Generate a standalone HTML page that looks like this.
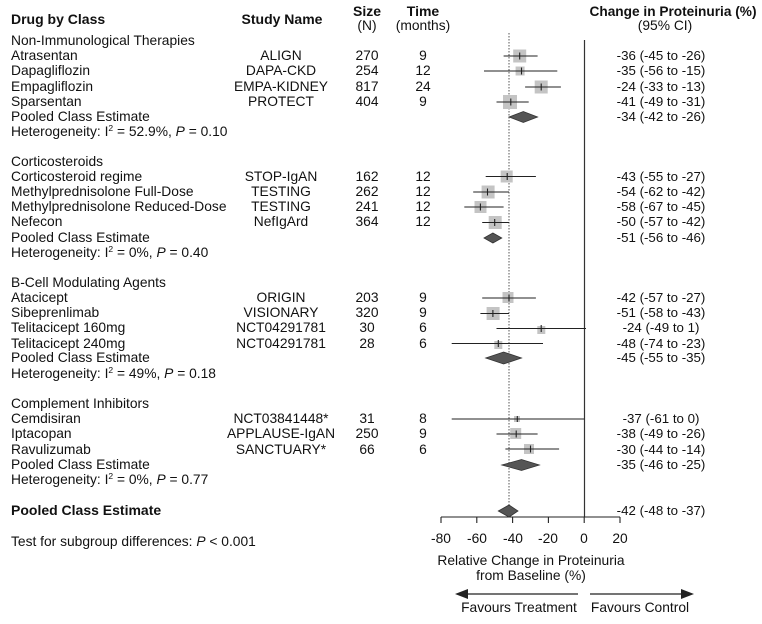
<!DOCTYPE html>
<html><head><meta charset="utf-8"><style>
html,body{margin:0;padding:0;background:#fff;}
svg{display:block;font-family:"Liberation Sans",Arial,sans-serif;font-size:13.8px;fill:#111;}
.b{font-weight:bold;font-size:14px;}
.m{text-anchor:middle;}
.c{text-anchor:middle;font-size:13.3px;}
</style></head><body>
<svg width="762" height="624" viewBox="0 0 762 624" xmlns="http://www.w3.org/2000/svg">
<text class="b" x="11" y="24">Drug by Class</text>
<text class="b m" x="282" y="24">Study Name</text>
<text class="b m" x="367" y="16">Size</text>
<text class="m" x="367" y="30">(N)</text>
<text class="b m" x="423" y="16">Time</text>
<text class="m" x="423" y="30">(months)</text>
<text class="b m" x="673" y="16" textLength="167" lengthAdjust="spacingAndGlyphs">Change in Proteinuria (%)</text>
<text class="m" x="665" y="30">(95% CI)</text>

<line x1="509" y1="33" x2="509" y2="517" stroke="#555" stroke-width="1" stroke-dasharray="1.5,1.5"/>
<line x1="584.5" y1="40" x2="584.5" y2="517" stroke="#333" stroke-width="1.2"/>
<g stroke="#222" stroke-width="1.1">
<line x1="441" y1="517" x2="620" y2="517"/>
<line x1="441" y1="517" x2="441" y2="523"/>
<line x1="476.8" y1="517" x2="476.8" y2="523"/>
<line x1="512.6" y1="517" x2="512.6" y2="523"/>
<line x1="548.4" y1="517" x2="548.4" y2="523"/>
<line x1="584.2" y1="517" x2="584.2" y2="523"/>
<line x1="620" y1="517" x2="620" y2="523"/>
</g>
<text class="m" x="441" y="543">-80</text>
<text class="m" x="477" y="543">-60</text>
<text class="m" x="513" y="543">-40</text>
<text class="m" x="548" y="543">-20</text>
<text class="m" x="584" y="543">0</text>
<text class="m" x="620" y="543">20</text>
<text class="m" x="531" y="565">Relative Change in Proteinuria</text>
<text class="m" x="531" y="580">from Baseline (%)</text>
<line x1="466" y1="594" x2="578" y2="594" stroke="#222" stroke-width="1.2"/>
<polygon points="455,594 468,589 468,599" fill="#222"/>
<line x1="590" y1="594" x2="683" y2="594" stroke="#222" stroke-width="1.2"/>
<polygon points="694,594 681,589 681,599" fill="#222"/>
<text class="m" x="519" y="612">Favours Treatment</text>
<text class="m" x="640" y="612">Favours Control</text>

<text x="11" y="45">Non-Immunological Therapies</text>
<text x="11" y="60">Atrasentan</text><text class="m" x="281" y="60">ALIGN</text><text class="m" x="367" y="60">270</text><text class="m" x="423" y="60">9</text><text class="c" x="661" y="60">-36 (-45 to -26)</text>
<text x="11" y="75">Dapagliflozin</text><text class="m" x="281" y="75">DAPA-CKD</text><text class="m" x="367" y="75">254</text><text class="m" x="423" y="75">12</text><text class="c" x="661" y="75">-35 (-56 to -15)</text>
<text x="11" y="91">Empagliflozin</text><text class="m" x="281" y="91">EMPA-KIDNEY</text><text class="m" x="367" y="91">817</text><text class="m" x="423" y="91">24</text><text class="c" x="661" y="91">-24 (-33 to -13)</text>
<text x="11" y="106">Sparsentan</text><text class="m" x="281" y="106">PROTECT</text><text class="m" x="367" y="106">404</text><text class="m" x="423" y="106">9</text><text class="c" x="661" y="106">-41 (-49 to -31)</text>
<text x="11" y="121">Pooled Class Estimate</text><text class="c" x="661" y="121">-34 (-42 to -26)</text>
<text x="11" y="136">Heterogeneity: I<tspan font-size="8.5" dy="-5">2</tspan><tspan dy="5"> = 52.9%, </tspan><tspan font-style="italic">P</tspan> = 0.10</text>

<text x="11" y="166">Corticosteroids</text>
<text x="11" y="181">Corticosteroid regime</text><text class="m" x="281" y="181">STOP-IgAN</text><text class="m" x="367" y="181">162</text><text class="m" x="423" y="181">12</text><text class="c" x="661" y="181">-43 (-55 to -27)</text>
<text x="11" y="196">Methylprednisolone Full-Dose</text><text class="m" x="281" y="196">TESTING</text><text class="m" x="367" y="196">262</text><text class="m" x="423" y="196">12</text><text class="c" x="661" y="196">-54 (-62 to -42)</text>
<text x="11" y="211">Methylprednisolone Reduced-Dose</text><text class="m" x="281" y="211">TESTING</text><text class="m" x="367" y="211">241</text><text class="m" x="423" y="211">12</text><text class="c" x="661" y="211">-58 (-67 to -45)</text>
<text x="11" y="226">Nefecon</text><text class="m" x="281" y="226">NefIgArd</text><text class="m" x="367" y="226">364</text><text class="m" x="423" y="226">12</text><text class="c" x="661" y="226">-50 (-57 to -42)</text>
<text x="11" y="242">Pooled Class Estimate</text><text class="c" x="661" y="242">-51 (-56 to -46)</text>
<text x="11" y="257">Heterogeneity: I<tspan font-size="8.5" dy="-5">2</tspan><tspan dy="5"> = 0%, </tspan><tspan font-style="italic">P</tspan> = 0.40</text>

<text x="11" y="287">B-Cell Modulating Agents</text>
<text x="11" y="302">Atacicept</text><text class="m" x="281" y="302">ORIGIN</text><text class="m" x="367" y="302">203</text><text class="m" x="423" y="302">9</text><text class="c" x="661" y="302">-42 (-57 to -27)</text>
<text x="11" y="317">Sibeprenlimab</text><text class="m" x="281" y="317">VISIONARY</text><text class="m" x="367" y="317">320</text><text class="m" x="423" y="317">9</text><text class="c" x="661" y="317">-51 (-58 to -43)</text>
<text x="11" y="332">Telitacicept 160mg</text><text class="m" x="281" y="332">NCT04291781</text><text class="m" x="367" y="332">30</text><text class="m" x="423" y="332">6</text><text class="c" x="661" y="332">-24 (-49 to 1)</text>
<text x="11" y="348">Telitacicept 240mg</text><text class="m" x="281" y="348">NCT04291781</text><text class="m" x="367" y="348">28</text><text class="m" x="423" y="348">6</text><text class="c" x="661" y="348">-48 (-74 to -23)</text>
<text x="11" y="362">Pooled Class Estimate</text><text class="c" x="661" y="362">-45 (-55 to -35)</text>
<text x="11" y="378">Heterogeneity: I<tspan font-size="8.5" dy="-5">2</tspan><tspan dy="5"> = 49%, </tspan><tspan font-style="italic">P</tspan> = 0.18</text>

<text x="11" y="408">Complement Inhibitors</text>
<text x="11" y="423">Cemdisiran</text><text class="m" x="281" y="423">NCT03841448*</text><text class="m" x="367" y="423">31</text><text class="m" x="423" y="423">8</text><text class="c" x="661" y="423">-37 (-61 to 0)</text>
<text x="11" y="438">Iptacopan</text><text class="m" x="281" y="438">APPLAUSE-IgAN</text><text class="m" x="367" y="438">250</text><text class="m" x="423" y="438">9</text><text class="c" x="661" y="438">-38 (-49 to -26)</text>
<text x="11" y="454">Ravulizumab</text><text class="m" x="281" y="454">SANCTUARY*</text><text class="m" x="367" y="454">66</text><text class="m" x="423" y="454">6</text><text class="c" x="661" y="454">-30 (-44 to -14)</text>
<text x="11" y="469">Pooled Class Estimate</text><text class="c" x="661" y="469">-35 (-46 to -25)</text>
<text x="11" y="484">Heterogeneity: I<tspan font-size="8.5" dy="-5">2</tspan><tspan dy="5"> = 0%, </tspan><tspan font-style="italic">P</tspan> = 0.77</text>

<text class="b" x="11" y="515">Pooled Class Estimate</text><text class="c" x="661" y="515">-42 (-48 to -37)</text>
<text x="11" y="546">Test for subgroup differences: <tspan font-style="italic">P</tspan> &lt; 0.001</text>

<g fill="#c4c4c4">
<rect x="513.2" y="49.5" width="13" height="13"/>
<rect x="515.6" y="66.5" width="9" height="9"/>
<rect x="534.7" y="80.5" width="13" height="13"/>
<rect x="503" y="95" width="14" height="14"/>
<rect x="500.7" y="170.5" width="12" height="12"/>
<rect x="481.6" y="185.5" width="13" height="13"/>
<rect x="474.5" y="201" width="12" height="12"/>
<rect x="488.7" y="216" width="13" height="13"/>
<rect x="502.5" y="292" width="11" height="11"/>
<rect x="486.6" y="307" width="13" height="13"/>
<rect x="537.3" y="326" width="8" height="8"/>
<rect x="494.3" y="341" width="8" height="8"/>
<rect x="514" y="416" width="6" height="6"/>
<rect x="510.2" y="428" width="11" height="11"/>
<rect x="524" y="444" width="10" height="10"/>
</g>
<g stroke="#222" stroke-width="1.1">
<line x1="503.6" y1="56" x2="537.6" y2="56"/><line x1="519.7" y1="52.5" x2="519.7" y2="59.5"/>
<line x1="484" y1="71" x2="557.3" y2="71"/><line x1="521.5" y1="67.5" x2="521.5" y2="74.5"/>
<line x1="525.1" y1="87" x2="560.9" y2="87"/><line x1="541.2" y1="83.5" x2="541.2" y2="90.5"/>
<line x1="496.5" y1="102" x2="528.7" y2="102"/><line x1="510.8" y1="98.5" x2="510.8" y2="105.5"/>
<line x1="485.7" y1="176.5" x2="535.9" y2="176.5"/><line x1="507.2" y1="173" x2="507.2" y2="180"/>
<line x1="473.2" y1="192" x2="509" y2="192"/><line x1="487.5" y1="188.5" x2="487.5" y2="195.5"/>
<line x1="464.3" y1="207" x2="503.6" y2="207"/><line x1="480.4" y1="203.5" x2="480.4" y2="210.5"/>
<line x1="482.2" y1="222.5" x2="509" y2="222.5"/><line x1="494.7" y1="219" x2="494.7" y2="226"/>
<line x1="482.2" y1="298" x2="535.9" y2="298"/><line x1="509" y1="294.5" x2="509" y2="301.5"/>
<line x1="480.4" y1="313.5" x2="509" y2="313.5"/><line x1="492.9" y1="310" x2="492.9" y2="317"/>
<line x1="496.5" y1="328.5" x2="586" y2="328.5"/><line x1="541.2" y1="325" x2="541.2" y2="332"/>
<line x1="451.7" y1="343.5" x2="543" y2="343.5"/><line x1="498.3" y1="340" x2="498.3" y2="347"/>
<line x1="451.7" y1="419" x2="584.2" y2="419"/><line x1="517.3" y1="416" x2="517.3" y2="422"/>
<line x1="496.5" y1="434" x2="537.6" y2="434"/><line x1="516.2" y1="430.5" x2="516.2" y2="437.5"/>
<line x1="505.4" y1="449" x2="559.1" y2="449"/><line x1="530.5" y1="445.5" x2="530.5" y2="452.5"/>
</g>
<g fill="#555" stroke="#333" stroke-width="0.8">
<polygon points="509,117 523.3,111.5 537.6,117 523.3,122.5"/>
<polygon points="484,238 492.9,233 501.8,238 492.9,243"/>
<polygon points="485.7,358 503.6,352 521.5,358 503.6,364"/>
<polygon points="501.8,465 521.5,459.5 539.4,465 521.5,470.5"/>
<polygon points="498.3,511 509,505 518,511 509,517"/>
</g>
</svg>
</body></html>
